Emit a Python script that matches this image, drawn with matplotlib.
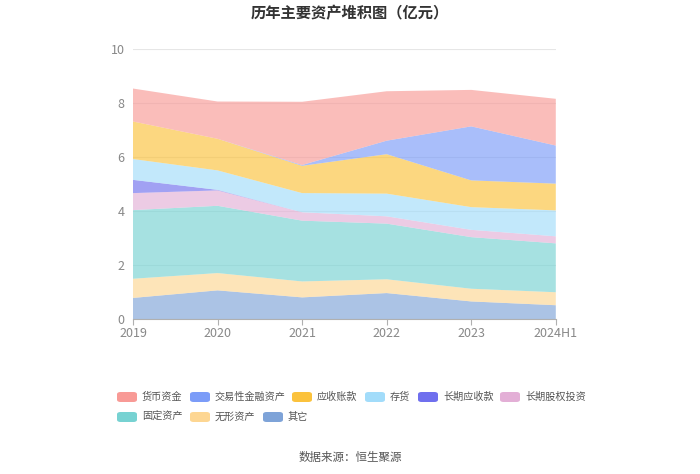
import matplotlib
matplotlib.use("Agg")
import matplotlib.pyplot as plt
from matplotlib.patches import FancyBboxPatch
import numpy as np

plt.rcParams['font.family'] = ['Noto Sans CJK SC', 'DejaVu Sans']

years = ["2019", "2020", "2021", "2022", "2023", "2024H1"]
series_names = ["其它", "无形资产", "固定资产", "长期股权投资", "长期应收款", "存货", "应收账款", "交易性金融资产", "货币资金"]
other = [0.78, 1.06, 0.80, 0.96, 0.65, 0.51]
intangible = [0.71, 0.64, 0.59, 0.51, 0.47, 0.48]
fixed = [2.54, 2.49, 2.25, 2.06, 1.91, 1.81]
lt_equity = [0.63, 0.57, 0.31, 0.27, 0.27, 0.26]
lt_receivable = [0.49, 0.02, 0.0, 0.0, 0.0, 0.0]
inventory = [0.77, 0.72, 0.71, 0.84, 0.84, 0.96]
receivable = [1.39, 1.17, 1.01, 1.46, 0.99, 0.99]
trading = [0.0, 0.0, 0.03, 0.50, 2.00, 1.41]
cash = [1.22, 1.38, 2.34, 1.83, 1.35, 1.73]

values = [other, intangible, fixed, lt_equity, lt_receivable, inventory, receivable, trading, cash]
colors = ["#7ea3d8", "#fdd692", "#77d2d2", "#e3afd6", "#6f6fee", "#a2dcfa", "#fbc23c", "#7b9cf8", "#f89a96"]

fig = plt.figure(figsize=(7.0, 4.74), dpi=100)
ax = fig.add_axes([0.19, 0.327, 0.604, 0.570])

x = np.arange(len(years))
ax.stackplot(x, *values, colors=colors, alpha=0.65, linewidth=0)

ax.set_xlim(0, len(years) - 1)
ax.set_ylim(0, 10)
ax.set_yticks([0, 2, 4, 6, 8, 10])
ax.set_xticks(x)
ax.set_xticklabels(years)
ax.yaxis.grid(True, color="#e6e6e6", linewidth=0.8)
ax.set_axisbelow(True)
for s in ["top", "right", "left"]:
    ax.spines[s].set_visible(False)
ax.spines["bottom"].set_color("#b0b0b0")
ax.tick_params(axis="y", length=0, labelcolor="#888888", labelsize=9, pad=6)
ax.tick_params(axis="x", length=4, color="#b0b0b0", labelcolor="#888888", labelsize=9, pad=2)

fig.text(0.5, 0.973, "历年主要资产堆积图（亿元）", ha="center", va="center",
         fontsize=11, fontweight="bold", color="#333333")

legend_items = [
    ("货币资金", "#f89a96", 117, 397),
    ("交易性金融资产", "#7b9cf8", 190, 397),
    ("应收账款", "#fbc23c", 292, 397),
    ("存货", "#a2dcfa", 365, 397),
    ("长期应收款", "#6f6fee", 418, 397),
    ("长期股权投资", "#e3afd6", 500, 397),
    ("固定资产", "#77d2d2", 117, 417),
    ("无形资产", "#fdd692", 190, 417),
    ("其它", "#7ea3d8", 263, 417),
]
W, H = 700.0, 474.0
for label, col, px, py in legend_items:
    sw, sh = 20, 10
    p = FancyBboxPatch(((px) / W, 1 - (py + sh / 2) / H), sw / W, sh / H,
                       boxstyle="round,pad=0,rounding_size=0.005",
                       transform=fig.transFigure, facecolor=col, edgecolor="none")
    fig.patches.append(p)
    fig.text((px + sw + 5) / W, 1 - py / H, label, ha="left", va="center",
             fontsize=7.3, color="#555555")

fig.text(0.5, 1 - 457 / H, "数据来源：恒生聚源", ha="center", va="center",
         fontsize=8.3, color="#555555")

fig.savefig("out.png", dpi=100)
